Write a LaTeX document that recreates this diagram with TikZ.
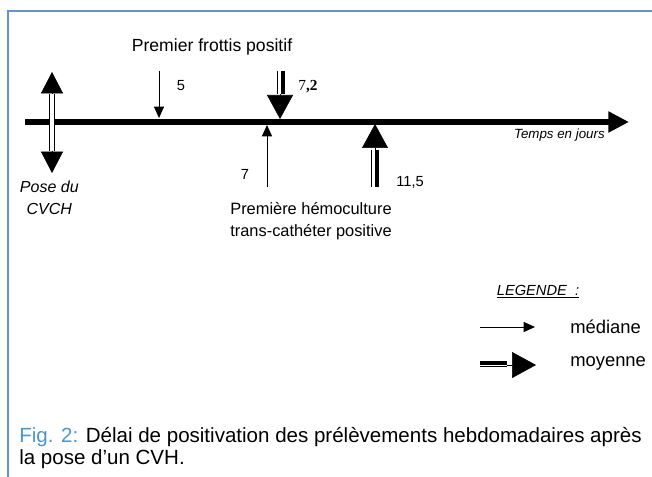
\documentclass[tikz,border=0pt]{standalone}
\usepackage{fontspec}
\setmainfont{Liberation Sans}
\newfontfamily\serifnum{Liberation Serif}
\usepackage{xcolor}
\usetikzlibrary{arrows.meta, positioning}

\definecolor{framblue}{RGB}{94,150,206}
\definecolor{figblue}{RGB}{70,150,215}

\begin{document}
\begin{tikzpicture}[
  x=0.75pt, y=-0.75pt,
  axis/.style={line width=4.5pt, -{Triangle[width=15pt, length=15.5pt]}},
  mediane/.style={line width=0.75pt, -{Triangle[width=7.5pt, length=8.5pt]}},
  bigtip/.style={line width=0.4pt, -{Triangle[width=19.5pt, length=18pt]}},
  thinshaft/.style={line width=0.75pt},
  thickshaft/.style={line width=3pt},
  lbl/.style={inner sep=0pt, font=\fontsize{11}{13}\selectfont},
  >=Stealth
]
\useasboundingbox (0,0) rectangle (652,477);
\draw[framblue, line width=1.5pt] (8,477) -- (8,11) -- (652,11);

% axe du temps
\coordinate (t0) at (25,122);
\coordinate (t1) at (629,122);
\draw[axis] (t0) -- (t1);
\node[lbl, font=\fontsize{10}{12}\selectfont\itshape, anchor=east] (temps) at (605,135) {Temps en jours};

% pose du CVCH
\coordinate (cv) at (52,122);
\coordinate (cvup) at (52,72);
\coordinate (cvupb) at (52,94);
\coordinate (cvdn) at (52,173);
\coordinate (cvdnb) at (52,151);
\draw[line width=0.75pt, double, double distance=2.5pt] (cvupb) -- (cvdnb);
\draw[bigtip, -{Triangle[width=16.5pt, length=16pt]}] (cvupb) -- (cvup);
\draw[bigtip, -{Triangle[width=16.5pt, length=16pt]}] (cvdnb) -- (cvdn);
\node[lbl, font=\fontsize{12}{16.5}\selectfont\itshape, align=center, below=6pt of cvdn, xshift=-2pt] (pose) {Pose du\\CVCH};

% premier frottis positif
\node[lbl, font=\fontsize{13.2}{15}\selectfont] (frottis) at (212,47) {Premier frottis positif};
\coordinate (f5a) at (159,71);
\coordinate (f5) at (159,118);
\draw[mediane] (f5a) -- (f5);
\node[lbl] (l5) at (181,86) {5};

\coordinate (f72a) at (280,71);
\coordinate (f72b) at (280,94);
\coordinate (f72) at (280,119);
\draw[thinshaft] ([xshift=-1.8pt]f72a) -- ([xshift=-1.8pt]f72b);
\draw[thickshaft] ([xshift=2.3pt]f72a) -- ([xshift=2.3pt]f72b);
\draw[bigtip] (f72b) -- (f72);
\node[lbl, font=\serifnum\fontsize{11.5}{13}\selectfont] (l72) at (308,87) {7{\bfseries,2}};

% premiere hemoculture
\coordinate (h7a) at (267,187);
\coordinate (h7) at (267,125);
\draw[mediane] (h7a) -- (h7);
\node[lbl] (l7) at (245,174) {7};

\coordinate (h115a) at (375,187);
\coordinate (h115b) at (375,150);
\coordinate (h115) at (375,124);
\draw[thinshaft] ([xshift=-2.3pt]h115a) -- ([xshift=-2.3pt]h115b);
\draw[thickshaft] ([xshift=1.6pt]h115a) -- ([xshift=1.6pt]h115b);
\draw[bigtip] (h115b) -- (h115);
\node[lbl] (l115) at (410,182) {11,5};
\node[lbl, align=center, font=\fontsize{12.3}{16.5}\selectfont] (hemo) at (311,221) {Première hémoculture\\trans-cathéter positive};

% legende
\node[lbl, font=\fontsize{11}{13}\selectfont\itshape] (leg) at (538,292) {\underline{LEGENDE~~:}};
\coordinate (lm0) at (480,327);
\coordinate (lm1) at (535,327);
\draw[mediane] (lm0) -- (lm1);
\node[lbl, font=\fontsize{13.8}{16}\selectfont, anchor=west] (med) at (570,327) {médiane};
\coordinate (lv0) at (480,365);
\coordinate (lvb) at (507,365);
\coordinate (lv1) at (536,365);
\draw[thickshaft] ([yshift=1.5pt]lv0) -- ([yshift=1.5pt]lvb);
\draw[thinshaft] ([yshift=-1.2pt]lv0) -- ([yshift=-1.2pt]lvb);
\draw[bigtip] (lvb) -- (lv1);
\node[lbl, font=\fontsize{13.8}{16}\selectfont, anchor=west] (moy) at (570,363) {moyenne};

% legende de la figure
\node[lbl, anchor=west, align=left, font=\fontsize{15.4}{16.5}\selectfont] (cap) at (19,448)
  {\textcolor{figblue}{Fig. 2:} Délai de positivation des prélèvements hebdomadaires après\\la pose d’un CVH.};
\end{tikzpicture}
\end{document}
